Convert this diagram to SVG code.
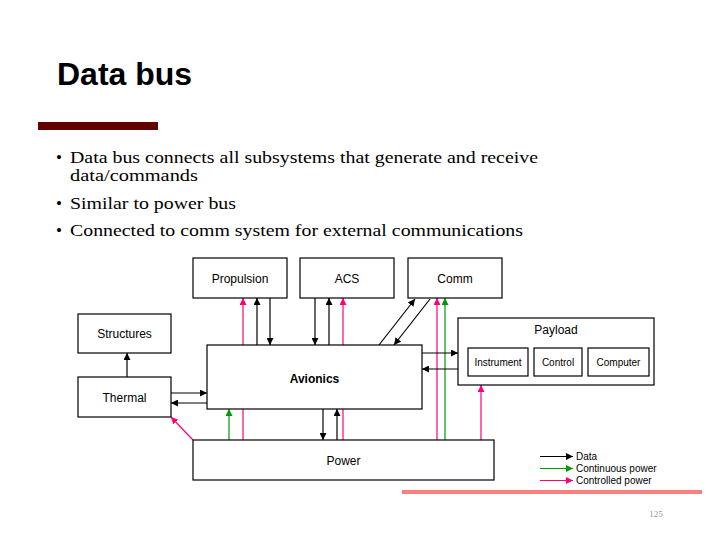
<svg xmlns="http://www.w3.org/2000/svg" width="720" height="540" viewBox="0 0 720 540">
  <style>
    .box { fill: #ffffff; stroke: #000000; stroke-width: 1.2; }
    .lbl { font-family: "Liberation Sans", Arial, sans-serif; font-size: 12px; fill: #000000; text-anchor: middle; }
    .sm { font-size: 10px; }
    .data { stroke: #000000; stroke-width: 1.2; fill: none; marker-end: url(#ah-data); }
    .cont { stroke: #009900; stroke-width: 1.2; fill: none; marker-end: url(#ah-cont); }
    .ctrl { stroke: #ff0077; stroke-width: 1.2; fill: none; marker-end: url(#ah-ctrl); }
    .bullet { font-family: "Liberation Serif", "Times New Roman", serif; font-size: 17px; fill: #000000; }
    .legend { font-family: "Liberation Sans", Arial, sans-serif; font-size: 10px; fill: #000000; }
  </style>
  <defs>
    <marker id="ah-data" viewBox="0 0 8 8" refX="8" refY="4" markerWidth="7" markerHeight="7" markerUnits="userSpaceOnUse" orient="auto">
      <path d="M0,0 L8,4 L0,8 z" fill="#000000"/>
    </marker>
    <marker id="ah-cont" viewBox="0 0 8 8" refX="8" refY="4" markerWidth="7" markerHeight="7" markerUnits="userSpaceOnUse" orient="auto">
      <path d="M0,0 L8,4 L0,8 z" fill="#009900"/>
    </marker>
    <marker id="ah-ctrl" viewBox="0 0 8 8" refX="8" refY="4" markerWidth="7" markerHeight="7" markerUnits="userSpaceOnUse" orient="auto">
      <path d="M0,0 L8,4 L0,8 z" fill="#ff0077"/>
    </marker>
  </defs>

  <rect width="720" height="540" fill="#ffffff"/>

  <!-- slide heading and bullets -->
  <text x="57" y="85" font-family="Liberation Sans, Arial, sans-serif" font-weight="bold" font-size="32" fill="#000000">Data bus</text>
  <rect x="38" y="122" width="120" height="8" fill="#600000"/>
  <g class="bullet">
    <text x="56" y="163">•</text>
    <text x="70" y="163" textLength="468" lengthAdjust="spacingAndGlyphs">Data bus connects all subsystems that generate and receive</text>
    <text x="70" y="181" textLength="128" lengthAdjust="spacingAndGlyphs">data/commands</text>
    <text x="56" y="209">•</text>
    <text x="70" y="209" textLength="166" lengthAdjust="spacingAndGlyphs">Similar to power bus</text>
    <text x="56" y="236">•</text>
    <text x="70" y="236" textLength="453" lengthAdjust="spacingAndGlyphs">Connected to comm system for external communications</text>
  </g>

  <!-- connectors -->
  <g id="connectors">
    <!-- Propulsion -->
    <line class="ctrl" x1="243" y1="440" x2="243" y2="298"/>
    <line class="data" x1="257" y1="345" x2="257" y2="298"/>
    <line class="data" x1="270" y1="298" x2="270" y2="345"/>
    <!-- ACS -->
    <line class="data" x1="315" y1="298" x2="315" y2="345"/>
    <line class="data" x1="329" y1="345" x2="329" y2="298"/>
    <line class="ctrl" x1="343" y1="440" x2="343" y2="298"/>
    <!-- Comm -->
    <line class="data" x1="379" y1="345" x2="415" y2="299"/>
    <line class="data" x1="430" y1="299" x2="394" y2="345"/>
    <line class="ctrl" x1="437" y1="440" x2="437" y2="298"/>
    <line class="cont" x1="445" y1="440" x2="445" y2="298"/>
    <!-- Structures / Thermal -->
    <line class="data" x1="127" y1="377" x2="127" y2="353"/>
    <line class="data" x1="171" y1="393" x2="207" y2="393"/>
    <line class="data" x1="207" y1="403" x2="171" y2="403"/>
    <line class="ctrl" x1="193" y1="440" x2="171" y2="417"/>
    <!-- Power / Avionics -->
    <line class="cont" x1="229" y1="440" x2="229" y2="409"/>
    <line class="data" x1="323" y1="409" x2="323" y2="440"/>
    <line class="data" x1="337" y1="440" x2="337" y2="409"/>
    <!-- Payload -->
    <line class="data" x1="422" y1="353" x2="458" y2="353"/>
    <line class="data" x1="458" y1="369" x2="422" y2="369"/>
    <line class="ctrl" x1="481" y1="440" x2="481" y2="385"/>
  </g>

  <!-- nodes -->
  <g id="propulsion">
    <rect class="box" x="193" y="258" width="94" height="40"/>
    <text class="lbl" x="240" y="283">Propulsion</text>
  </g>
  <g id="acs">
    <rect class="box" x="300" y="258" width="94" height="40"/>
    <text class="lbl" x="347" y="283">ACS</text>
  </g>
  <g id="comm">
    <rect class="box" x="408" y="258" width="94" height="40"/>
    <text class="lbl" x="455" y="283">Comm</text>
  </g>
  <g id="structures">
    <rect class="box" x="78" y="314" width="93" height="39"/>
    <text class="lbl" x="124.5" y="338">Structures</text>
  </g>
  <g id="thermal">
    <rect class="box" x="78" y="377" width="93" height="40"/>
    <text class="lbl" x="124.5" y="402">Thermal</text>
  </g>
  <g id="avionics">
    <rect class="box" x="207" y="345" width="215" height="64"/>
    <text class="lbl" x="314.5" y="383" font-weight="bold" font-size="14">Avionics</text>
  </g>
  <g id="payload">
    <rect class="box" x="458" y="318" width="196" height="67"/>
    <text class="lbl" x="556" y="334">Payload</text>
    <g id="instrument">
      <rect class="box" x="468" y="348" width="60" height="28"/>
      <text class="lbl sm" x="498" y="366">Instrument</text>
    </g>
    <g id="control">
      <rect class="box" x="534" y="348" width="48" height="28"/>
      <text class="lbl sm" x="558" y="366">Control</text>
    </g>
    <g id="computer">
      <rect class="box" x="588" y="348" width="61" height="28"/>
      <text class="lbl sm" x="618.5" y="366">Computer</text>
    </g>
  </g>
  <g id="power">
    <rect class="box" x="193" y="440" width="301" height="40"/>
    <text class="lbl" x="343.5" y="465">Power</text>
  </g>

  <!-- legend -->
  <g id="legend">
    <line class="data" x1="540" y1="456.5" x2="573" y2="456.5"/>
    <line class="cont" x1="540" y1="468.5" x2="573" y2="468.5"/>
    <line class="ctrl" x1="540" y1="480.5" x2="573" y2="480.5"/>
    <text class="legend" x="576" y="460">Data</text>
    <text class="legend" x="576" y="472">Continuous power</text>
    <text class="legend" x="576" y="484">Controlled power</text>
  </g>

  <!-- footer -->
  <rect x="402" y="490" width="300" height="4" fill="#ff7f7f"/>
  <text x="656" y="517" font-family="Liberation Serif, serif" font-size="9" fill="#999999" text-anchor="middle">125</text>
</svg>
